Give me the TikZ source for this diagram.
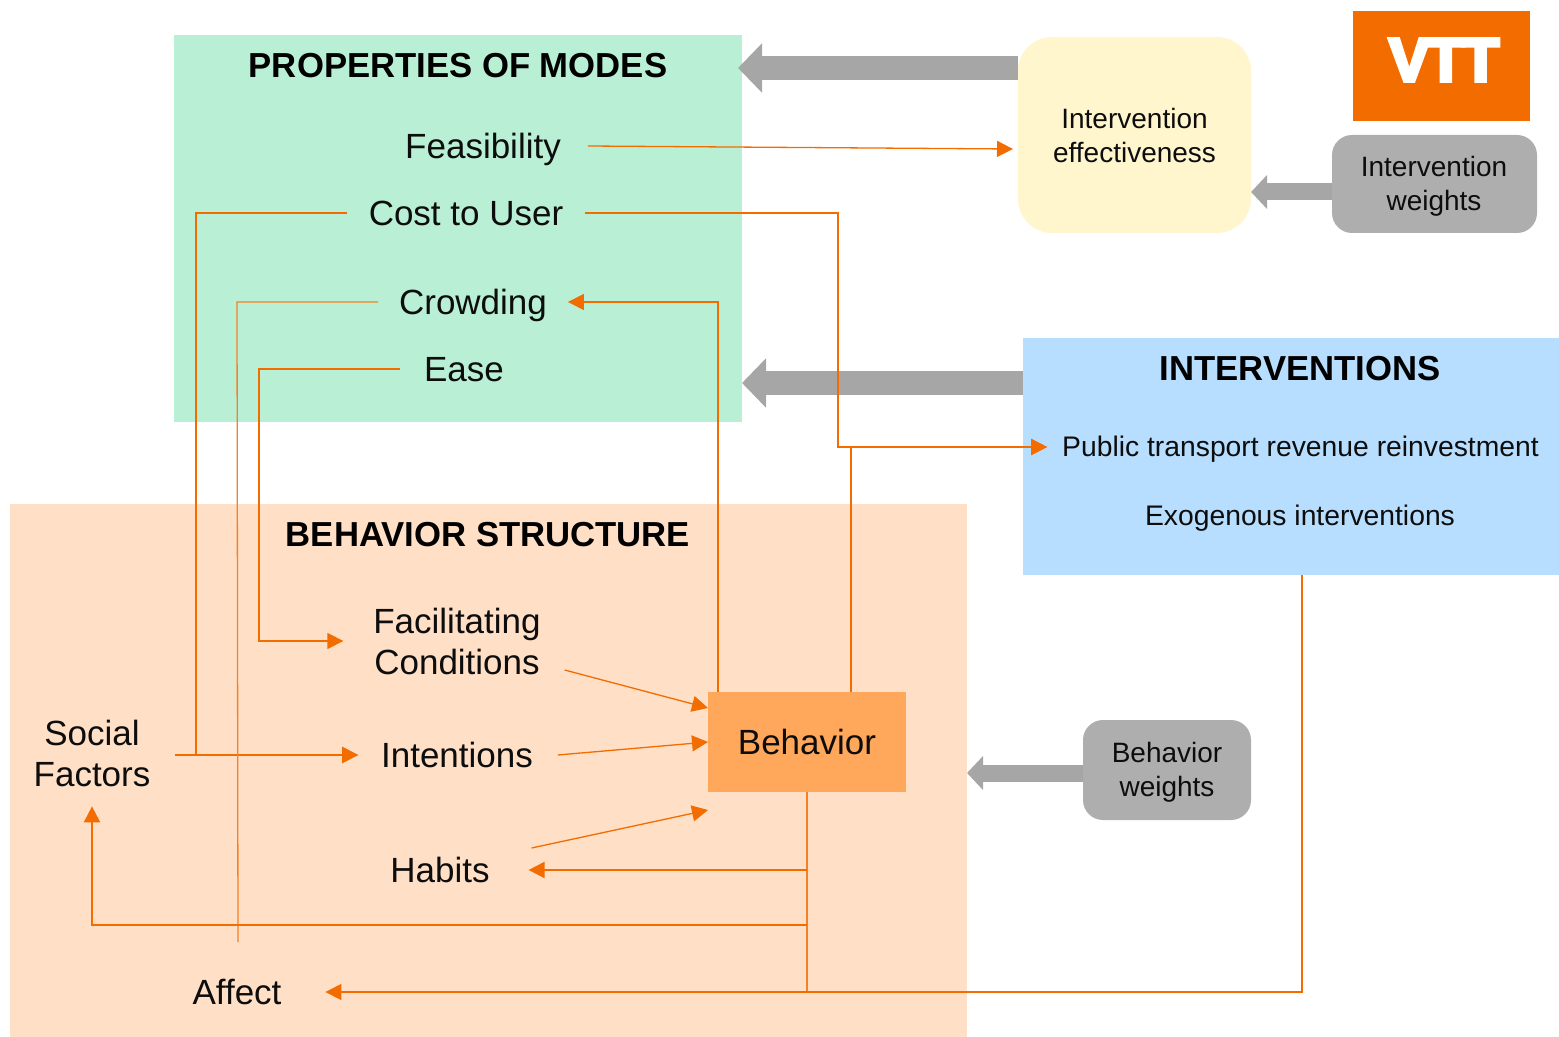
\documentclass[tikz,border=0pt]{standalone}
\usepackage{fontspec}
\setmainfont{Liberation Sans}
\usetikzlibrary{arrows.meta}
\definecolor{vttorange}{HTML}{F26C00}
\definecolor{wirecol}{HTML}{F58025}
\definecolor{modesbg}{HTML}{B9F0D5}
\definecolor{structbg}{HTML}{FFDFC6}
\definecolor{intervbg}{HTML}{B7DEFF}
\definecolor{effectbg}{HTML}{FFF6CE}
\definecolor{weightbg}{HTML}{AEAEAE}
\definecolor{behavbg}{HTML}{FFA85C}
\definecolor{bandgray}{HTML}{A6A6A6}
\tikzset{
  area/.style={anchor=north west,inner sep=0pt,outer sep=0pt,draw=none},
  label big/.style={inner ysep=0pt,inner xsep=11pt,outer sep=0pt,align=center,text=black!95,
    font=\fontsize{17.5}{20.5}\selectfont,text height=12.6pt,text depth=0pt},
  label two/.style={inner ysep=0pt,inner xsep=11pt,outer sep=0pt,align=center,text=black!95,
    font=\fontsize{17.5}{20.5}\selectfont},
  label small/.style={inner sep=0pt,outer sep=0pt,align=center,text=black!95,
    font=\fontsize{14}{17}\selectfont},
  label wide/.style={inner sep=0pt,outer sep=0pt,align=center,text=black!95,
    font=\fontsize{14.15}{17}\selectfont},
  title/.style={inner sep=0pt,outer sep=0pt,text=black,font=\fontsize{17.35}{20}\selectfont\bfseries},
  wire/.style={draw=wirecol,line width=0.65pt},
  wirearrow/.style={wire,-{Triangle[length=8pt,width=8pt]},vttorange},
  band/.style={draw=bandgray,line width=12pt,-{Triangle[length=12pt,width=24pt]}},
  bandthin/.style={draw=bandgray,line width=8.5pt,-{Triangle[length=8pt,width=16.5pt]}},
}
\begin{document}
\begin{tikzpicture}[x=0.5pt,y=-0.5pt]
\useasboundingbox (0,0) rectangle (1559,1037);
% panels
\node[area,fill=modesbg,minimum width=284pt,minimum height=193.5pt] (modes) at (174,35) {};
\node[area,fill=structbg,minimum width=478.5pt,minimum height=266.5pt] (struct) at (10,504) {};
\node[area,fill=intervbg,minimum width=268pt,minimum height=118.5pt] (interv) at (1023,338) {};
\node[area,fill=effectbg,rounded corners=17pt,minimum width=116.5pt,minimum height=98pt] (effect) at (1018,37) {};
\node[label small] (effecttext) at (1134.5,135) {Intervention\\effectiveness};
\node[area,fill=vttorange,minimum width=88.5pt,minimum height=55pt] (logo) at (1353,11) {};
\node[text=white,inner sep=0pt,font=\fontsize{30.5}{31}\selectfont\bfseries] (logotext) at (1444,60) {\addfontfeature{FakeBold=6,LetterSpace=-4}VTT};
\node[area,fill=weightbg,rounded corners=10pt,minimum width=102.5pt,minimum height=49pt] (iweights) at (1332,135) {};
\node[label small] (iweightstext) at (1434,186) {Intervention\\weights};
\node[area,fill=weightbg,rounded corners=10pt,minimum width=84pt,minimum height=50pt] (bweights) at (1083,720) {};
\node[label small] (bweightstext) at (1167,772) {Behavior\\weights};
\node[area,fill=behavbg,minimum width=99pt,minimum height=50pt,
  font=\fontsize{17.5}{20}\selectfont,text=black!95] (behav) at (708,692) {Behavior};
% titles
\node[title] (t1) at (458,66) {PROPERTIES OF MODES};
\node[title] (t2) at (488,535) {BEHAVIOR STRUCTURE};
\node[title] (t3) at (1300,369) {INTERVENTIONS};
% labels
\node[label big,inner xsep=13.5pt] (feas) at (483,146) {Feasibility};
\node[label big] (cost) at (466,213) {Cost to User};
\node[label big,inner xsep=10.5pt] (crowd) at (473,302) {Crowding};
\node[label big,inner xsep=12pt] (ease) at (464,369) {Ease};
\node[label two,inner xsep=15pt] (fac) at (457,641) {Facilitating\\Conditions};
\node[label big,inner xsep=11.5pt] (intent) at (457,755) {Intentions};
\node[label big,inner xsep=19.5pt] (hab) at (440,870) {Habits};
\node[label big,inner xsep=22pt] (aff) at (237,992) {Affect};
\node[label two,inner xsep=12.5pt,inner ysep=10pt] (soc) at (92,753) {Social\\Factors};
\node[label wide,inner xsep=7.5pt,text height=10pt,text depth=0pt] (pub) at (1300.5,447) {Public transport revenue reinvestment};
\node[label wide] (exo) at (1300,518) {Exogenous interventions};
% free points
\coordinate (costturn) at (838,300);
\coordinate (costleft) at (196,300);
\coordinate (affecttop) at (238,942);
\coordinate (crowdleft) at (237,302);
\coordinate (easeleft) at (259,369);
\coordinate (habitsy) at (807,870);
\coordinate (socialy) at (807,925);
\coordinate (affecty) at (807,992);
\coordinate (modestipa) at (738,68);
\coordinate (interdown) at (1302,992);
% grey arrows
\draw[band] ([yshift=33.5pt]effect.west) -- (modestipa);
\draw[band] ([yshift=36.75pt]interv.west) -- ([yshift=-77.25pt]modes.east);
\draw[bandthin] ([yshift=-4pt]iweights.west) -- ([yshift=-28.5pt]effect.east);
\draw[bandthin] ([yshift=-1.5pt]bweights.west) -- ([yshift=-1.25pt]struct.east);
% orange connectors
\draw[wirearrow] (feas.east) -- ([yshift=-7pt,xshift=-2.5pt]effect.west);
\draw[wirearrow] (cost.east) -| (costturn) |- (pub.west);
\draw[wirearrow] (cost.west) -| (costleft) |- (intent.west);
\draw[wirearrow,line width=1.2pt] ([yshift=-1pt]soc.east) -- (intent.west);
\draw[wire] (crowd.west) -- (crowdleft) -- (affecttop);
\draw[wirearrow] (ease.west) -| (easeleft) |- (fac.west);
\draw[wirearrow] ([xshift=-44.5pt]behav.north) |- (crowd.east);
\draw[wirearrow] ([xshift=22pt]behav.north) |- (pub.west);
\draw[wirearrow] ([xshift=-3pt,yshift=-14.5pt]fac.east) -- ([yshift=17pt]behav.west);
\draw[wirearrow] ([xshift=1pt]intent.east) -- (behav.west);
\draw[wirearrow] ([xshift=1.5pt,yshift=11pt]hab.east) -- ([yshift=-9pt]behav.south west);
\draw[wire,line width=1pt] (behav.south) -- (socialy);
\draw[wire] (socialy) -- (affecty);
\draw[wirearrow,line width=1pt] (habitsy) -- (hab.east);
\draw[wirearrow,line width=1pt] (socialy) -| (soc.south);
\draw[wirearrow] (interv.south -| interdown) |- (aff.east);
\end{tikzpicture}
\end{document}
